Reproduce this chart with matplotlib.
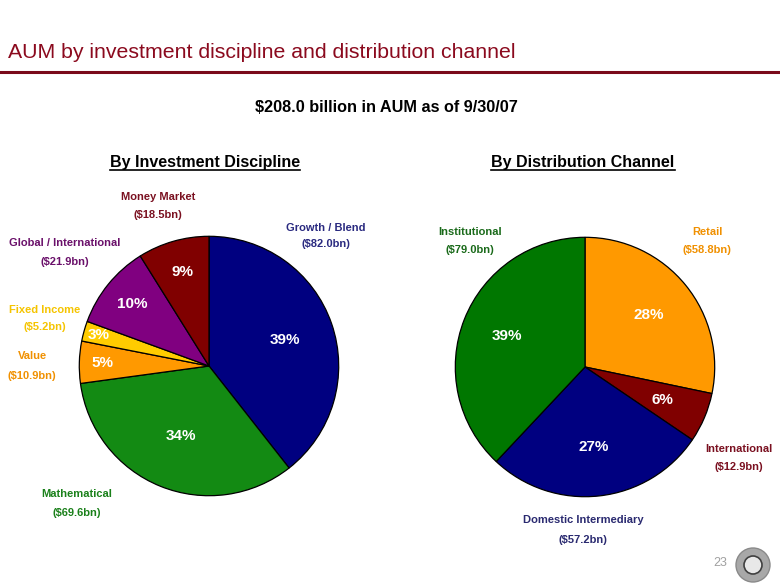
import matplotlib
matplotlib.use("Agg")
import numpy as np
import matplotlib.pyplot as plt
from matplotlib import font_manager
from matplotlib.lines import Line2D
from matplotlib.patches import Circle

# data
disc_names = ["Growth / Blend", "Mathematical", "Value", "Fixed Income",
              "Global / International", "Money Market"]
disc_aum = [82.0, 69.6, 10.9, 5.2, 21.9, 18.5]
disc_pct = ["39%", "34%", "5%", "3%", "10%", "9%"]

chan_names = ["Retail", "International", "Domestic Intermediary", "Institutional"]
chan_aum = [58.8, 12.9, 57.2, 79.0]
chan_pct = ["28%", "6%", "27%", "39%"]

W, H = 780, 587
fig = plt.figure(figsize=(W / 100, H / 100), dpi=100)
fig.patch.set_facecolor("white")

names = {f.name for f in font_manager.fontManager.ttflist}
narrow = "Liberation Sans Narrow" in names
body = "Liberation Sans"


def px(x, y):
    return x / W, 1 - y / H


def pie_axes(cx, cy, r):
    return fig.add_axes([(cx - r) / W, 1 - (cy + r) / H, 2 * r / W, 2 * r / H])


def draw_pie(ax, vals, cols, pcts, dists):
    wedges, _ = ax.pie(vals, colors=cols, startangle=90, counterclock=False,
                       wedgeprops=dict(edgecolor="black", linewidth=0.9))
    for w, p, d in zip(wedges, pcts, dists):
        a = np.deg2rad((w.theta1 + w.theta2) / 2)
        ax.text(d * np.cos(a), d * np.sin(a), p, ha="center", va="center",
                color="white", fontsize=11, fontweight="bold", family=body)
    ax.set_xlim(-1.01, 1.01)
    ax.set_ylim(-1.01, 1.01)


# title
title = "AUM by investment discipline and distribution channel"
if narrow:
    fig.text(*px(8, 53), title, fontsize=17, color="#8b0a1e",
             family="Liberation Sans Narrow", va="center")
else:
    fig.text(*px(8, 53), title, fontsize=15.3, color="#8b0a1e", family=body, va="center")
fig.add_artist(Line2D([0, 1], [1 - 72 / H] * 2, color="#7a0a1a", lw=2.2))

fig.text(*px(386, 108), "$208.0 billion in AUM as of 9/30/07", ha="center", va="center",
         fontsize=11.7, fontweight="bold", family=body)

heads = [(205, 162, "By Investment Discipline"), (583, 162, "By Distribution Channel")]
head_txt = []
for x, y, s in heads:
    head_txt.append(fig.text(*px(x, y), s, ha="center", va="center",
                             fontsize=11.5, fontweight="bold", family=body))

# left pie
ax1 = pie_axes(209, 366, 131)
draw_pie(ax1, disc_aum,
         ["#000080", "#138a13", "#ff9900", "#ffcc00", "#800080", "#800000"],
         disc_pct, [0.62, 0.58, 0.82, 0.88, 0.76, 0.75])

# right pie
ax2 = pie_axes(585, 367, 131)
draw_pie(ax2, chan_aum, ["#ff9900", "#800000", "#000080", "#007700"],
         chan_pct, [0.63, 0.65, 0.62, 0.65])

# outside labels
lab = [
    (158, 197, 215, "Money Market", "($18.5bn)", "#7a1020"),
    (326, 228, 244, "Growth / Blend", "($82.0bn)", "#2a2a80"),
    (65, 243, 262, "Global / International", "($21.9bn)", "#6a106a"),
    (45, 310, 327, "Fixed Income", "($5.2bn)", "#f5c400"),
    (32, 356, 376, "Value", "($10.9bn)", "#f09000"),
    (77, 494, 513, "Mathematical", "($69.6bn)", "#1a801a"),
    (470, 232, 250, "Institutional", "($79.0bn)", "#1a6a1a"),
    (707, 232, 250, "Retail", "($58.8bn)", "#f09000"),
    (739, 449, 467, "International", "($12.9bn)", "#7a1020"),
    (583, 520, 540, "Domestic Intermediary", "($57.2bn)", "#2a2a70"),
]
for x, y1, y2, n, v, c in lab:
    fig.text(*px(x, y1), n, ha="center", va="center", fontsize=8,
             fontweight="bold", color=c, family=body)
    fig.text(*px(x, y2), v, ha="center", va="center", fontsize=8,
             fontweight="bold", color=c, family=body)

# underline the headings
fig.canvas.draw()
r = fig.canvas.get_renderer()
for t in head_txt:
    bb = t.get_window_extent(r)
    y = (bb.y0 - 1) / H
    fig.add_artist(Line2D([bb.x0 / W, bb.x1 / W], [y, y], color="black", lw=1.2))

# page number and logo
fig.text(*px(720, 563), "23", ha="center", va="center", fontsize=9,
         color="#a0a0a0", family=body)
fig.add_artist(Circle((7.53, (H - 565) / 100), 0.17, transform=fig.dpi_scale_trans,
                      facecolor="#a8a8a8", edgecolor="#8a8a8a", lw=1))
fig.add_artist(Circle((7.53, (H - 565) / 100), 0.09, transform=fig.dpi_scale_trans,
                      facecolor="#e8e8e8", edgecolor="#404040", lw=1.2))

fig.savefig("out.png", dpi=100)
